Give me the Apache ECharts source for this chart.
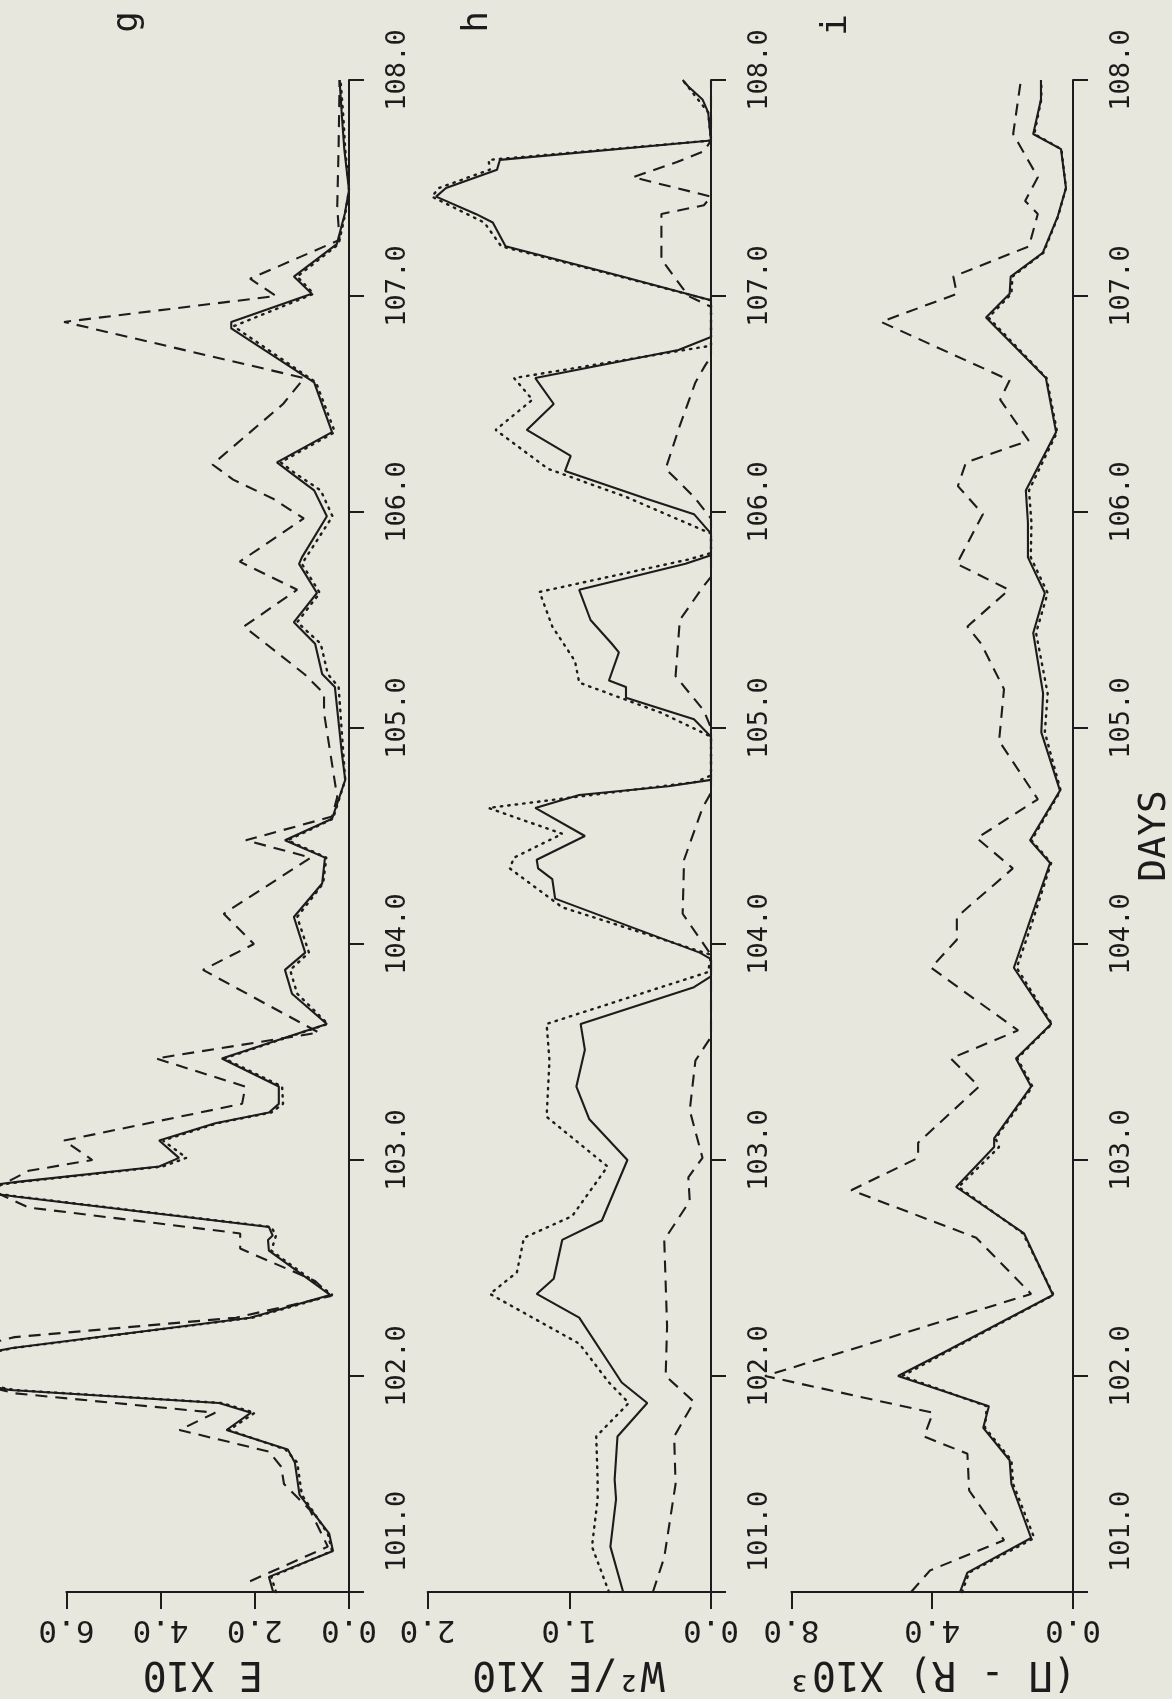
<!DOCTYPE html>
<html>
<head>
<meta charset="utf-8">
<script src="https://cdn.jsdelivr.net/npm/echarts@6/dist/echarts.min.js"></script>
<style>
html,body{margin:0;padding:0;background:#e7e7dd;}
#chart{width:1172px;height:1699px;}
</style>
</head>
<body>
<div id="chart"></div>
<script>
// ---------------- DATA (day, value) ----------------
const dayTicks = [101, 108];          // day axis range (ticks every 1.0)
const gTicks = [0, 2, 4, 6];          // E X10
const hTicks = [0, 1, 2];             // W²/E X10
const iTicks = [0, 4, 8];             // (Π - R) X10³

const gSolid = [[101.00,1.61],[101.07,1.70],[101.19,0.34],[101.27,0.42],[101.45,1.05],[101.60,1.15],[101.66,1.30],[101.75,2.60],[101.83,2.08],[101.875,2.76],[101.935,7.2],[102.03,9.5],[102.13,7.15],[102.27,2.10],[102.375,0.40],[102.58,1.70],[102.63,1.72],[102.65,1.62],[102.69,1.70],[102.83,7.05],[102.865,8.3],[102.90,7.0],[102.97,4.03],[103.01,3.61],[103.09,4.03],[103.17,2.84],[103.22,1.70],[103.26,1.49],[103.34,1.49],[103.47,2.70],[103.63,0.47],[103.77,1.21],[103.88,1.36],[103.96,0.93],[104.125,1.17],[104.28,0.57],[104.40,0.51],[104.48,1.36],[104.58,0.36],[104.76,0.08],[104.88,0.15],[105.19,0.30],[105.25,0.57],[105.39,0.72],[105.49,1.17],[105.625,0.68],[105.76,1.06],[105.79,1.00],[105.98,0.47],[106.10,0.74],[106.18,1.23],[106.23,1.53],[106.37,0.36],[106.60,0.74],[106.85,2.50],[106.88,2.50],[107.01,0.79],[107.09,1.17],[107.24,0.26],[107.38,0.09],[107.49,0.00],[107.68,0.10],[107.83,0.15],[108.00,0.20]];
const gDashed = [[101.05,2.10],[101.21,0.45],[101.38,0.83],[101.50,1.38],[101.58,1.44],[101.65,1.70],[101.75,3.60],[101.83,2.84],[101.92,7.1],[102.05,9.5],[102.18,7.1],[102.27,2.40],[102.37,0.38],[102.44,0.72],[102.59,2.31],[102.66,2.31],[102.78,6.8],[102.86,7.6],[102.95,6.8],[103.00,5.45],[103.09,6.05],[103.26,2.27],[103.34,2.20],[103.47,4.10],[103.59,0.64],[103.88,3.10],[104.00,2.02],[104.14,2.66],[104.40,0.81],[104.48,2.19],[104.59,0.36],[104.68,0.25],[105.07,0.53],[105.16,0.53],[105.25,0.95],[105.47,2.23],[105.64,1.10],[105.77,2.32],[105.97,0.96],[106.06,1.60],[106.15,2.46],[106.22,2.90],[106.50,1.40],[106.62,0.95],[106.88,6.05],[107.00,1.55],[107.08,2.10],[107.26,0.20],[107.41,0.25],[107.70,0.22],[108.00,0.20]];
const gDotted = [[101.00,1.55],[101.07,1.65],[101.19,0.36],[101.27,0.45],[101.45,1.00],[101.60,1.10],[101.66,1.35],[101.75,2.55],[101.83,2.00],[101.875,2.70],[101.935,7.1],[102.03,9.4],[102.13,7.1],[102.27,2.05],[102.375,0.35],[102.58,1.65],[102.65,1.55],[102.69,1.65],[102.83,7.0],[102.865,8.2],[102.90,6.9],[102.97,3.95],[103.01,3.45],[103.09,3.95],[103.17,2.80],[103.22,1.65],[103.26,1.40],[103.34,1.42],[103.47,2.65],[103.63,0.45],[103.77,1.10],[103.88,1.25],[103.96,0.85],[104.125,1.10],[104.28,0.55],[104.40,0.48],[104.48,1.30],[104.58,0.34],[104.76,0.08],[104.88,0.12],[105.19,0.22],[105.25,0.45],[105.39,0.60],[105.49,1.10],[105.625,0.62],[105.76,1.00],[105.98,0.35],[106.10,0.60],[106.18,1.15],[106.23,1.45],[106.37,0.30],[106.60,0.70],[106.86,2.45],[107.01,0.75],[107.09,1.10],[107.24,0.22],[107.38,0.08],[107.49,0.00],[107.68,0.08],[107.83,0.12],[108.00,0.18]];

const hSolid = [[101.00,0.62],[101.21,0.71],[101.43,0.67],[101.52,0.68],[101.72,0.66],[101.875,0.45],[101.97,0.63],[102.06,0.72],[102.27,0.93],[102.38,1.23],[102.45,1.11],[102.63,1.05],[102.72,0.77],[103.00,0.59],[103.19,0.86],[103.34,0.95],[103.51,0.89],[103.63,0.92],[103.80,0.12],[103.85,0.00],[103.93,0.00],[103.96,0.08],[104.21,1.10],[104.30,1.12],[104.35,1.22],[104.39,1.23],[104.50,0.89],[104.63,1.24],[104.69,0.93],[104.73,0.30],[104.76,0.00],[104.96,0.00],[105.04,0.12],[105.14,0.60],[105.19,0.60],[105.22,0.72],[105.35,0.65],[105.39,0.70],[105.50,0.85],[105.64,0.93],[105.76,0.18],[105.80,0.00],[105.90,0.00],[105.99,0.12],[106.06,0.45],[106.19,1.03],[106.26,0.99],[106.38,1.30],[106.50,1.11],[106.62,1.24],[106.75,0.23],[106.81,0.00],[106.98,0.00],[107.10,0.68],[107.23,1.45],[107.34,1.54],[107.38,1.66],[107.46,1.94],[107.50,1.87],[107.585,1.51],[107.63,1.49],[107.72,0.00],[107.85,0.02],[107.91,0.06],[107.97,0.16],[108.00,0.20]];
const hDotted = [[101.00,0.72],[101.21,0.84],[101.43,0.80],[101.52,0.80],[101.72,0.81],[101.875,0.58],[101.97,0.72],[102.15,0.93],[102.38,1.56],[102.48,1.37],[102.64,1.32],[102.74,0.98],[102.97,0.73],[103.20,1.16],[103.46,1.14],[103.63,1.16],[103.87,0.02],[103.95,0.00],[104.17,1.05],[104.35,1.42],[104.40,1.39],[104.51,1.05],[104.63,1.57],[104.75,0.11],[104.78,0.00],[104.96,0.00],[105.07,0.35],[105.21,0.93],[105.31,0.96],[105.47,1.12],[105.63,1.21],[105.78,0.16],[105.81,0.00],[105.90,0.00],[106.07,0.60],[106.20,1.15],[106.38,1.52],[106.52,1.26],[106.62,1.39],[106.77,0.00],[106.98,0.00],[107.10,0.70],[107.23,1.48],[107.34,1.60],[107.46,1.97],[107.50,1.92],[107.585,1.56],[107.63,1.57],[107.72,0.00],[107.85,0.02],[108.00,0.20]];
const hDashed = [[101.00,0.41],[101.16,0.33],[101.50,0.25],[101.72,0.26],[101.88,0.12],[102.00,0.32],[102.23,0.31],[102.63,0.33],[102.81,0.15],[102.92,0.16],[103.01,0.06],[103.23,0.15],[103.46,0.11],[103.57,0.00],[103.95,0.00],[104.14,0.20],[104.39,0.19],[104.63,0.06],[104.70,0.00],[105.00,0.00],[105.08,0.05],[105.24,0.25],[105.50,0.22],[105.65,0.06],[105.70,0.00],[105.97,0.00],[106.07,0.12],[106.20,0.32],[106.40,0.22],[106.60,0.11],[106.68,0.04],[106.72,0.00],[106.95,0.00],[107.00,0.16],[107.17,0.35],[107.38,0.35],[107.42,0.05],[107.46,0.00],[107.55,0.55],[107.62,0.24],[107.67,0.05],[107.72,0.00],[108.00,0.00]];

const iSolid = [[101.00,3.21],[101.09,3.00],[101.25,1.19],[101.50,1.75],[101.61,1.80],[101.76,2.55],[101.86,2.39],[102.00,4.97],[102.11,3.66],[102.375,0.57],[102.66,1.39],[102.875,3.32],[103.06,2.24],[103.10,2.24],[103.34,1.19],[103.47,1.62],[103.63,0.62],[103.89,1.68],[104.08,1.28],[104.375,0.65],[104.48,1.22],[104.71,0.37],[104.98,0.90],[105.16,0.85],[105.44,1.13],[105.625,0.80],[105.79,1.28],[105.95,1.28],[106.10,1.34],[106.37,0.48],[106.62,0.77],[106.90,2.47],[107.01,1.80],[107.09,1.77],[107.20,0.86],[107.37,0.43],[107.50,0.20],[107.68,0.34],[107.75,1.13],[107.91,0.91],[108.00,0.91]];
const iDashed = [[101.00,4.60],[101.10,4.06],[101.24,1.96],[101.47,2.95],[101.64,3.00],[101.72,4.23],[101.83,3.98],[102.00,8.75],[102.38,1.19],[102.64,2.75],[102.86,6.30],[103.01,4.40],[103.08,4.40],[103.34,2.67],[103.47,3.47],[103.60,1.56],[103.89,4.03],[104.02,3.30],[104.125,3.30],[104.35,1.71],[104.49,2.73],[104.67,1.00],[104.94,2.10],[105.18,1.96],[105.39,2.61],[105.47,3.00],[105.64,1.82],[105.76,3.30],[105.99,2.56],[106.12,3.27],[106.23,3.04],[106.33,1.26],[106.52,2.07],[106.61,1.80],[106.88,5.45],[107.01,3.30],[107.09,3.40],[107.23,1.25],[107.38,1.00],[107.44,1.36],[107.55,1.00],[107.75,1.70],[108.00,1.48]];
const iDotted = [[101.00,3.15],[101.09,2.95],[101.25,1.10],[101.50,1.70],[101.61,1.75],[101.76,2.50],[101.86,2.45],[102.00,4.85],[102.11,3.60],[102.375,0.55],[102.66,1.42],[102.875,3.25],[103.06,2.10],[103.10,2.20],[103.34,1.15],[103.47,1.58],[103.63,0.60],[103.89,1.60],[104.08,1.20],[104.375,0.62],[104.48,1.18],[104.71,0.35],[104.98,0.80],[105.16,0.72],[105.44,1.05],[105.625,0.72],[105.79,1.20],[105.95,1.18],[106.10,1.25],[106.37,0.45],[106.62,0.75],[106.90,2.40],[107.01,1.75],[107.09,1.72],[107.20,0.84],[107.37,0.42],[107.50,0.20],[107.68,0.33],[107.75,1.10],[107.91,0.90],[108.00,0.90]];

const panelNames = ['E X10', 'W\u00B2/E X10', '(\u03A0 - R) X10\u00B3'];
const panelLetters = ['g', 'h', 'i'];
const dayName = 'DAYS';

// ---------------- LAYOUT / STYLE ----------------
const ink = '#1c1c1c';
const font = "'DejaVu Sans Mono', 'Liberation Mono', monospace";
const plotTop = 80, plotH = 1512;
// zero: pixel x of value 0; ppu: pixels per unit; max: last labelled value; ext: axis line beyond 0;
// reach: how far the (hidden) data scale extends so that off-scale peaks run out of the frame
const panels = [
  {zero: 349,  ppu: 47.1,  max: 6, ext: 0.3, reach: 7.4, ticks: gTicks, namePad: 24, series: [gSolid, gDashed, gDotted]},
  {zero: 711,  ppu: 141.7, max: 2, ext: 0.1, reach: 2.3, ticks: hTicks, namePad: 16, series: [hSolid, hDashed, hDotted]},
  {zero: 1073, ppu: 35.2,  max: 8, ext: 0.4, reach: 9.6, ticks: iTicks, namePad: 14, series: [iSolid, iDashed, iDotted]}
];
const letterPos = [[128, 22], [478, 22], [837, 25]];
const styles = [
  {type: 'solid', width: 2.1},
  {type: [12, 8], width: 2.1},
  {type: [1.5, 6], width: 2.4, cap: 'round'}
];

const grids = [], xAxes = [], yAxes = [], series = [];
panels.forEach((p, k) => {
  const ga = 2 * k, gd = 2 * k + 1;
  // visible axes
  grids.push({left: p.zero - p.max * p.ppu, top: plotTop, width: (p.max + p.ext) * p.ppu, height: plotH,
              containLabel: false, outerBoundsMode: 'none'});
  // data frame with the same scale, wider so peaks leave the frame
  grids.push({left: p.zero - p.reach * p.ppu, top: plotTop, width: (p.reach + p.ext) * p.ppu, height: plotH,
              containLabel: false, outerBoundsMode: 'none'});
  xAxes.push({
    type: 'value', gridIndex: ga, min: -p.ext, max: p.max, inverse: true, position: 'bottom',
    axisLine: {show: true, onZero: false, lineStyle: {color: ink, width: 2}},
    axisTick: {show: true, length: 17, customValues: p.ticks, lineStyle: {color: ink, width: 2}},
    axisLabel: {show: true, rotate: 180, margin: 22, customValues: p.ticks,
                formatter: v => Number(v).toFixed(1), fontFamily: font, fontSize: 31, color: ink},
    splitLine: {show: false},
    name: panelNames[k], nameLocation: 'middle', nameRotate: 180, nameGap: 60,
    nameTextStyle: {fontFamily: font, fontSize: 40, color: ink, padding: [0, 0, 0, p.namePad]}
  });
  yAxes.push({
    type: 'value', gridIndex: ga, min: dayTicks[0], max: dayTicks[1], interval: 1, position: 'right',
    axisLine: {show: true, onZero: true, lineStyle: {color: ink, width: 2}},
    axisTick: {show: true, length: 15, lineStyle: {color: ink, width: 2}},
    axisLabel: {show: true, rotate: 90, margin: 21, formatter: v => Number(v).toFixed(1),
                fontFamily: font, fontSize: 27, color: ink, padding: [0, 0, 0, 20], alignMinLabel: 'left'},
    splitLine: {show: false},
    name: k === 2 ? dayName : '', nameLocation: 'middle', nameRotate: 90, nameGap: 45,
    nameTextStyle: {fontFamily: font, fontSize: 38, color: ink}
  });
  xAxes.push({type: 'value', gridIndex: gd, min: -p.ext, max: p.reach, inverse: true, show: false,
              splitLine: {show: false}});
  yAxes.push({type: 'value', gridIndex: gd, min: dayTicks[0], max: dayTicks[1], show: false,
              splitLine: {show: false}});
  p.series.forEach((d, j) => {
    series.push({
      type: 'line', xAxisIndex: gd, yAxisIndex: gd, clip: false, symbol: 'none', silent: true,
      data: d.map(pt => [pt[1], pt[0]]),
      lineStyle: Object.assign({color: ink}, styles[j])
    });
  });
});

const chart = echarts.init(document.getElementById('chart'), null, {renderer: 'canvas'});
chart.setOption({
  backgroundColor: '#e7e7dd',
  animation: false,
  grid: grids, xAxis: xAxes, yAxis: yAxes, series: series,
  graphic: panelLetters.map((t, k) => ({
    type: 'text', x: letterPos[k][0], y: letterPos[k][1], rotation: Math.PI / 2,
    style: {text: t, fontFamily: font, fontSize: 36, fill: ink, align: 'center', verticalAlign: 'middle'}
  }))
});
</script>
</body>
</html>
